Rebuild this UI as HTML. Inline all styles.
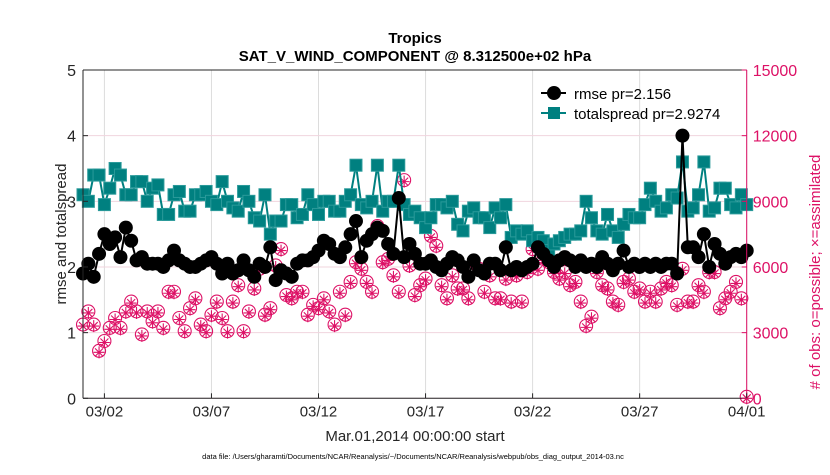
<!DOCTYPE html>
<html><head><meta charset="utf-8"><style>
body{margin:0;background:#fff;}
svg{font-family:"Liberation Sans",sans-serif;}
</style></head><body>
<svg id="c" width="830" height="470" xmlns="http://www.w3.org/2000/svg"></svg>
<script>
const rmse=[1.9,2.05,1.85,2.2,2.5,2.35,2.45,2.15,2.6,2.4,2.1,2.15,2.05,2.05,2.05,2.0,2.1,2.25,2.1,2.05,2.0,2.0,2.05,2.1,2.15,2.05,1.9,2.05,1.9,1.95,2.1,1.95,1.85,2.05,2.0,2.3,1.8,1.95,1.9,1.85,2.05,2.1,2.1,2.15,2.25,2.4,2.35,2.2,
2.15,2.3,2.5,2.7,2.15,2.4,2.5,2.6,2.55,2.35,2.2,3.05,2.15,2.35,2.2,2.05,2.05,2.1,2.0,1.95,2.05,2.15,2.1,2.0,1.85,2.1,1.95,1.9,2.05,2.05,1.95,2.3,1.95,2.0,1.95,2.0,2.05,2.3,2.2,2.1,
2.0,2.1,2.15,2.1,2.0,2.1,2.0,2.05,2.0,2.15,2.05,1.95,2.05,2.25,2.0,2.05,2.0,2.05,2.0,2.05,2.0,2.05,2.05,1.9,4.0,2.3,2.3,2.15,2.5,2.0,2.35,2.2,2.05,2.15,2.2,2.15,2.25];
const spread=[3.1,3.0,3.4,3.4,2.95,3.2,3.5,3.4,3.1,3.1,3.3,3.3,3.0,3.2,3.25,2.8,2.8,3.1,3.15,2.85,2.85,3.1,3.1,3.15,3.0,2.95,3.3,3.0,2.9,2.85,3.15,3.0,2.75,2.7,3.1,2.5,2.7,2.7,2.95,2.95,2.75,2.8,3.1,2.95,2.8,3.0,3.0,2.85,
2.85,3.0,3.1,3.55,2.95,2.9,3.0,3.55,2.85,3.0,3.0,3.55,2.95,2.8,2.85,2.75,2.6,2.75,2.95,2.95,2.9,3.0,2.65,2.55,2.85,2.9,2.75,2.75,2.6,2.9,2.75,2.95,2.45,2.55,2.5,2.55,2.4,2.45,2.4,2.25,
2.35,2.4,2.45,2.5,2.5,2.55,3.0,2.75,2.55,2.5,2.8,2.55,2.45,2.65,2.8,2.75,2.75,2.95,3.2,3.0,2.85,2.9,3.1,3.05,3.6,2.85,2.9,3.1,3.6,2.85,2.9,3.2,3.2,2.95,2.9,3.1,2.95];
const obsK=[3.3,3.9,3.3,2.1,2.55,3.15,3.6,3.15,3.9,4.35,3.9,2.85,3.9,3.45,3.9,3.15,4.8,4.8,3.6,3.0,4.05,4.5,3.3,3.0,3.75,4.35,3.6,3.0,4.35,5.1,3.0,3.9,4.95,5.85,3.75,4.05,6.0,6.75,4.65,4.5,4.8,4.8,3.75,4.2,4.05,4.5,3.9,3.3,
4.8,3.75,5.25,6.15,5.85,5.25,4.8,7.8,6.15,6.3,5.55,4.8,9.9,6.0,4.65,5.1,5.4,7.35,6.9,5.1,4.5,5.55,4.95,4.95,4.5,6.0,5.85,4.8,5.55,4.5,4.5,5.4,4.35,5.55,4.35,5.7,6.75,5.85,6.3,6.15,
5.7,5.4,5.7,5.1,5.25,4.35,3.24,3.66,5.7,5.1,4.95,4.35,4.2,5.25,5.4,4.8,4.95,4.35,4.8,4.35,4.95,5.25,5.1,4.2,5.85,4.35,4.35,5.1,4.8,5.7,5.7,4.05,4.5,4.8,5.25,4.5,0];
const xTicks=["03/02","03/07","03/12","03/17","03/22","03/27","04/01"];
const xTickDays=[1,6,11,16,21,26,31];
const yTicks=[0,1,2,3,4,5];
const y2Ticks=[0,3000,6000,9000,12000,15000];

const L=83,R=746.7,T=70,B=398.3;
const sx=d=>L+(R-L)*d/31;
const sy=v=>B-(B-T)*v/5;
const sy2=v=>B-(B-T)*v/15000;
const svg=document.getElementById('c');
const NS="http://www.w3.org/2000/svg";
function mk(tag,a,parent){const e=document.createElementNS(NS,tag);for(const k in a)e.setAttribute(k,a[k]);(parent||svg).appendChild(e);return e;}
function txt(s,a,parent){const e=mk('text',a,parent);e.textContent=s;return e;}

const grid=mk('g',{});


xTickDays.forEach(d=>mk('line',{x1:sx(d),x2:sx(d),y1:T,y2:B,stroke:'#dcdcdc','stroke-width':1},grid));
yTicks.forEach(v=>mk('line',{x1:L,x2:R,y1:sy(v),y2:sy(v),stroke:'#f0d4de','stroke-width':1},grid));

const og=mk('g',{});


obsK.forEach((v,i)=>{const x=sx(i*0.25),y=sy2(v*1000);
 const g=mk('g',{stroke:'#dd1166','stroke-width':1.1,fill:'none'},og);
 
 
 mk('circle',{cx:x,cy:y-1.5,r:6.5},g);
 mk('path',{d:`M${x-5.5} ${y}H${x+5.5}M${x} ${y-6}V${y+6}M${x-4} ${y-4}L${x+4} ${y+4}M${x-4} ${y+4}L${x+4} ${y-4}`},g);
});

const sg=mk('g',{});


mk('polyline',{points:spread.map((v,i)=>sx(i*0.25)+','+sy(v)).join(' '),fill:'none',stroke:'#008080','stroke-width':2},sg);
spread.forEach((v,i)=>{const r=mk('rect',{x:sx(i*0.25)-6,y:sy(v)-6,width:12,height:12,fill:'#008080',stroke:'#2a9a9a','stroke-width':1},sg);
 
 });

const rg=mk('g',{});


mk('polyline',{points:rmse.map((v,i)=>sx(i*0.25)+','+sy(v)).join(' '),fill:'none',stroke:'#000','stroke-width':2},rg);
rmse.forEach((v,i)=>{const c=mk('circle',{cx:sx(i*0.25),cy:sy(v),r:7,fill:'#000'},rg);
 
 });

const ax=mk('g',{});


mk('line',{x1:L,x2:L,y1:T,y2:B,stroke:'#262626'},ax);
mk('line',{x1:L,x2:R,y1:B,y2:B,stroke:'#262626'},ax);
mk('line',{x1:L,x2:R,y1:T,y2:T,stroke:'#262626'},ax);
mk('line',{x1:R,x2:R,y1:T,y2:B,stroke:'#dd1166'},ax);
xTickDays.forEach((d,i)=>{mk('line',{x1:sx(d),x2:sx(d),y1:B,y2:B-5,stroke:'#262626'},ax);
 const t=txt(xTicks[i],{x:sx(d),y:B+18,'text-anchor':'middle','font-size':15,fill:'#262626'},ax);
 
 });
yTicks.forEach(v=>{mk('line',{x1:L,x2:L+5,y1:sy(v),y2:sy(v),stroke:'#262626'},ax);
 const t=txt(String(v),{x:L-7,y:sy(v)+6,'text-anchor':'end','font-size':16,fill:'#262626'},ax);
 
 });
y2Ticks.forEach(v=>{mk('line',{x1:R,x2:R-5,y1:sy2(v),y2:sy2(v),stroke:'#dd1166'},ax);
 const t=txt(String(v),{x:R+6,y:sy2(v)+6,'font-size':16,fill:'#dd1166'},ax);
 
 });
</script>
<svg width="830" height="470" style="position:absolute;left:0;top:0" xmlns="http://www.w3.org/2000/svg" font-family="Liberation Sans, sans-serif">
<text x="415" y="43" text-anchor="middle" font-size="15" font-weight="bold" fill="#000">Tropics</text>
<text x="415" y="61" text-anchor="middle" font-size="15" font-weight="bold" fill="#000">SAT_V_WIND_COMPONENT @ 8.312500e+02 hPa</text>
<text transform="translate(66,234) rotate(-90)" text-anchor="middle" font-size="15" fill="#262626">rmse and totalspread</text>
<text transform="translate(820,272) rotate(-90)" text-anchor="middle" font-size="15" fill="#dd1166"># of obs: o=possible; ×=assimilated</text>
<text x="415" y="441" text-anchor="middle" font-size="15" fill="#262626">Mar.01,2014 00:00:00 start</text>
<text x="413" y="459" text-anchor="middle" font-size="7.5" fill="#000">data file: /Users/gharamti/Documents/NCAR/Reanalysis/~/Documents/NCAR/Reanalysis/webpub/obs_diag_output_2014-03.nc</text>
<g>
<g>
<line x1="541" x2="566" y1="93" y2="93" stroke="#000" stroke-width="2"/><circle cx="554" cy="93" r="7" fill="#000"/>
<text x="574" y="99" font-size="15" fill="#000">rmse pr=2.156</text></g>
<g>
<line x1="541" x2="566" y1="113" y2="113" stroke="#008080" stroke-width="2"/><rect x="548" y="107" width="12" height="12" fill="#008080"/>
<text x="574" y="119" font-size="15" fill="#000">totalspread pr=2.9274</text></g>
</g>
</svg>
</body></html>
